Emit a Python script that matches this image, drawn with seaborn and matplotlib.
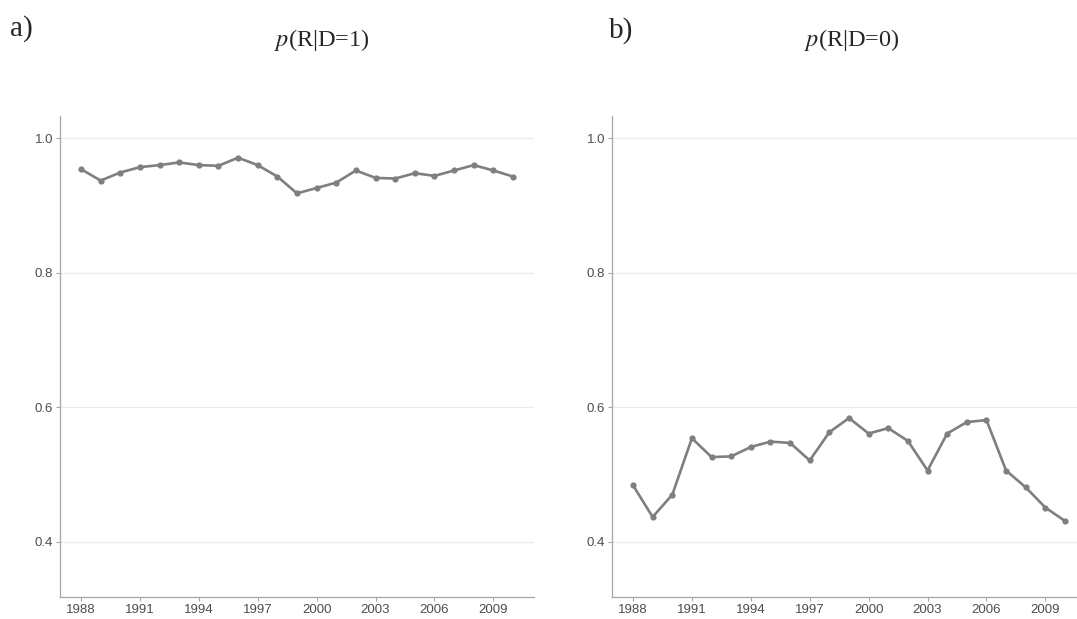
import numpy as np
import pandas as pd
import matplotlib
matplotlib.use("Agg")
import matplotlib.pyplot as plt
import seaborn as sns

# years and the two probability series
years = list(range(1988, 2011))
p_r_d1 = [0.954, 0.937, 0.949, 0.957, 0.960, 0.964, 0.960, 0.959, 0.971, 0.960,
          0.943, 0.918, 0.926, 0.934, 0.952, 0.941, 0.940, 0.948, 0.944, 0.952,
          0.960, 0.952, 0.943]
p_r_d0 = [0.484, 0.437, 0.470, 0.554, 0.526, 0.527, 0.541, 0.549, 0.547, 0.521,
          0.563, 0.584, 0.561, 0.569, 0.550, 0.506, 0.561, 0.578, 0.581, 0.506,
          0.481, 0.451, 0.431]
y_ticks = [0.4, 0.6, 0.8, 1.0]
x_ticks = list(range(1988, 2010, 3))

df = pd.DataFrame({"year": years, "d1": p_r_d1, "d0": p_r_d0})

sns.set_style("white")
plt.rcParams["font.family"] = ["Liberation Sans", "DejaVu Sans"]
plt.rcParams["mathtext.fontset"] = "stix"

fig = plt.figure(figsize=(10.77, 6.19), dpi=100)
W, H = 1077, 619

# axes boxes in pixels: left, top, right, bottom
boxes = [(60, 116, 534, 597), (612, 116, 1086, 597)]
axes = []
for (l, t, r, b) in boxes:
    ax = fig.add_axes([l / W, 1 - b / H, (r - l) / W, (b - t) / H])
    axes.append(ax)

for ax, col in zip(axes, ["d1", "d0"]):
    sns.lineplot(data=df, x="year", y=col, ax=ax, color="#7f7f7f",
                 linewidth=1.9, marker="o", markersize=4.5,
                 markeredgewidth=0, zorder=3)
    ax.set_xlim(1986.93, 2011.07)
    ax.set_ylim(0.318, 1.033)
    ax.set_yticks(y_ticks)
    ax.set_yticklabels([f"{v:.1f}" for v in y_ticks])
    ax.set_xticks(x_ticks)
    ax.set_xlabel("")
    ax.set_ylabel("")
    ax.grid(axis="y", color="#ebebeb", linewidth=0.9)
    ax.grid(axis="x", visible=False)
    for s in ["top", "right"]:
        ax.spines[s].set_visible(False)
    for s in ["left", "bottom"]:
        ax.spines[s].set_color("#a6a6a6")
        ax.spines[s].set_linewidth(0.9)
    ax.tick_params(axis="both", colors="#a6a6a6", labelcolor="#4d4d4d",
                   labelsize=9.5, length=3, width=0.8, left=True, bottom=True,
                   pad=2)

serif = ["Liberation Serif", "DejaVu Serif"]
fig.text(10 / W, 1 - 36 / H, "a)", fontsize=21, family=serif)
fig.text(609 / W, 1 - 38 / H, "b)", fontsize=21, family=serif)
fig.text(322 / W, 1 - 46 / H, r"$\it{p}$(R|D=1)", fontsize=17.5, family=serif,
         ha="center")
fig.text(852 / W, 1 - 46 / H, r"$\it{p}$(R|D=0)", fontsize=17.5, family=serif,
         ha="center")

fig.savefig("out.png", dpi=100)
